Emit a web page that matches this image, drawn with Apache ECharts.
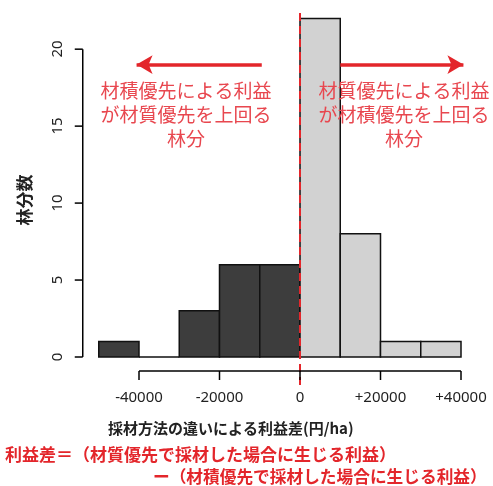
<!DOCTYPE html>
<html>
<head>
<meta charset="utf-8">
<script src="https://cdn.jsdelivr.net/npm/echarts@6/dist/echarts.min.js"></script>
<style>
  html, body { margin: 0; padding: 0; background: #fff; }
  #chart { width: 493px; height: 486px; }
</style>
</head>
<body>
<div id="chart"></div>
<script>
// 利益差のヒストグラム（林分数）
const binLeft  = [-50000, -40000, -30000, -20000, -10000, 0, 10000, 20000, 30000];
const binRight = [-40000, -30000, -20000, -10000, 0, 10000, 20000, 30000, 40000];
const standCount = [1, 0, 3, 6, 6, 22, 8, 1, 1];
const xTicks = [-40000, -20000, 0, 20000, 40000];
const xTickLabels = ['-40000', '-20000', '0', '+20000', '+40000'];
const yTicks = [0, 5, 10, 15, 20];
const refLineX = [0];
// 矢印（データ座標）
const arrowLeft = [[-9500, 19], [-40600, 19]];
const arrowRight = [[10000, 19], [40600, 19]];

const RED = '#e3262b';
const TXT_RED = '#e8474f';
const AXIS = '#000';
const JP = '"Noto Sans CJK JP", "Noto Sans", sans-serif';
const Y_MAX = 22.35;
const X_OFF = 14;  // x軸をプロット下端から離す(px)
const Y_OFF = 16;  // y軸をプロット左端から離す(px)

const chart = echarts.init(document.getElementById('chart'));

const texts = [
  {
    id: 't1', type: 'text', x: 186, y: 79, z: 10,
    style: {
      text: '材積優先による利益\nが材質優先を上回る\n林分',
      align: 'center', verticalAlign: 'top', lineHeight: 24,
      font: '19px ' + JP, fill: TXT_RED
    }
  },
  {
    id: 't2', type: 'text', x: 404, y: 79, z: 10,
    style: {
      text: '材質優先による利益\nが材積優先を上回る\n林分',
      align: 'center', verticalAlign: 'top', lineHeight: 24,
      font: '19px ' + JP, fill: TXT_RED
    }
  },
  {
    id: 't3', type: 'text', x: 25, y: 200, rotation: Math.PI / 2,
    style: {
      text: '林分数', align: 'center', verticalAlign: 'middle',
      font: 'bold 17px ' + JP, fill: '#222'
    }
  },
  {
    id: 't4', type: 'text', x: 108, y: 428,
    style: {
      text: '採材方法の違いによる利益差(円/ha)', align: 'left', verticalAlign: 'middle',
      font: 'bold 15px ' + JP, fill: '#222'
    }
  },
  {
    id: 't5', type: 'text', x: 5, y: 455,
    style: {
      text: '利益差＝（材質優先で採材した場合に生じる利益）', align: 'left', verticalAlign: 'middle',
      font: 'bold 17px ' + JP, fill: RED
    }
  },
  {
    id: 't6', type: 'text', x: 153, y: 477,
    style: {
      text: 'ー（材積優先で採材した場合に生じる利益）', align: 'left', verticalAlign: 'middle',
      font: 'bold 16.7px ' + JP, fill: RED
    }
  }
];

const option = {
  animation: false,
  backgroundColor: '#fff',
  grid: [
    // 0: data (-50000..42000)
    { left: 98.75, right: 23.95, top: 13, bottom: 129 },
    // 1: x axis labels (-40000..40000)
    { left: 139, right: 32, top: 13, bottom: 129 },
    // 2: y axis labels (0..20)
    { left: 98.75, right: 32, top: 49, bottom: 129 }
  ],
  xAxis: [
    { gridIndex: 0, type: 'value', min: -50000, max: 42000, show: false },
    {
      gridIndex: 1, type: 'value', min: -40000, max: 40000, interval: 20000,
      position: 'bottom', offset: X_OFF,
      axisLine: { show: false },
      axisTick: { show: false },
      splitLine: { show: false },
      axisLabel: {
        margin: 19, color: '#222', fontSize: 15, fontFamily: '"Noto Sans", sans-serif',
        formatter: v => xTickLabels[xTicks.indexOf(v)]
      }
    },
    { gridIndex: 2, type: 'value', min: -50000, max: 40000, show: false }
  ],
  yAxis: [
    { gridIndex: 0, type: 'value', min: 0, max: Y_MAX, show: false },
    { gridIndex: 1, type: 'value', min: 0, max: Y_MAX, show: false },
    {
      gridIndex: 2, type: 'value', min: yTicks[0], max: yTicks[yTicks.length - 1], interval: 5,
      position: 'left', offset: Y_OFF,
      axisLine: { show: false },
      axisTick: { show: false },
      splitLine: { show: false },
      axisLabel: {
        rotate: 90, margin: 18, color: '#222', fontSize: 15,
        fontFamily: '"Noto Sans", sans-serif'
      }
    }
  ],
  series: [
    {
      type: 'custom',
      xAxisIndex: 0, yAxisIndex: 0,
      data: standCount.map((c, i) => [binLeft[i], binRight[i], c]),
      renderItem: (params, api) => {
        const x0 = api.value(0), x1 = api.value(1), c = api.value(2);
        const p0 = api.coord([x0, c]);
        const p1 = api.coord([x1, 0]);
        return {
          type: 'rect',
          shape: { x: p0[0], y: p0[1], width: p1[0] - p0[0], height: p1[1] - p0[1] },
          style: { fill: x1 <= 0 ? '#3d3d3d' : '#d2d2d2', stroke: '#111', lineWidth: 1.5 }
        };
      }
    },
    {
      // 利益差 0 の破線
      type: 'custom',
      xAxisIndex: 0, yAxisIndex: 0,
      data: refLineX.map(v => [v]),
      clip: false,
      z: 5,
      renderItem: (params, api) => {
        const top = api.coord([api.value(0), Y_MAX]);
        const bot = api.coord([api.value(0), 0]);
        return {
          type: 'line',
          shape: { x1: top[0], y1: top[1], x2: bot[0], y2: bot[1] + 28 },
          style: { stroke: RED, lineWidth: 2, lineDash: [8, 5] }
        };
      }
    },
    {
      // 矢印
      type: 'custom',
      xAxisIndex: 0, yAxisIndex: 0,
      data: [],
      markLine: {
        silent: true,
        symbol: ['none', 'arrow'],
        symbolSize: [14, 16],
        label: { show: false },
        lineStyle: { color: RED, width: 3.5, type: 'solid' },
        data: [
          [{ coord: arrowLeft[0] }, { coord: arrowLeft[1] }],
          [{ coord: arrowRight[0] }, { coord: arrowRight[1] }]
        ]
      },
      renderItem: () => null
    }
  ],
  graphic: texts
};

chart.setOption(option);

// R風の軸（線と目盛り）: 軸のスケールから画素位置を求めて描く
const toPx = (x, y) => chart.convertToPixel({ xAxisIndex: 0, yAxisIndex: 0 }, [x, y]);
const seg = (id, a, b) => ({
  id: id, type: 'line', z: 20, silent: true,
  shape: { x1: a[0], y1: a[1], x2: b[0], y2: b[1] },
  style: { stroke: AXIS, lineWidth: 1.5 }
});
const axisEls = [];
const xa = toPx(xTicks[0], 0), xb = toPx(xTicks[xTicks.length - 1], 0);
const xy = xa[1] + X_OFF;
axisEls.push(seg('xl', [xa[0], xy], [xb[0], xy]));
xTicks.forEach((t, i) => {
  const p = toPx(t, 0);
  axisEls.push(seg('xt' + i, [p[0], xy], [p[0], xy + 9]));
});
const ya = toPx(binLeft[0], yTicks[0]), yb = toPx(binLeft[0], yTicks[yTicks.length - 1]);
const yx = ya[0] - Y_OFF;
axisEls.push(seg('yl', [yx, ya[1]], [yx, yb[1]]));
yTicks.forEach((t, i) => {
  const p = toPx(binLeft[0], t);
  axisEls.push(seg('yt' + i, [yx - 8, p[1]], [yx, p[1]]));
});

chart.setOption({ graphic: texts.concat(axisEls) });
</script>
</body>
</html>
